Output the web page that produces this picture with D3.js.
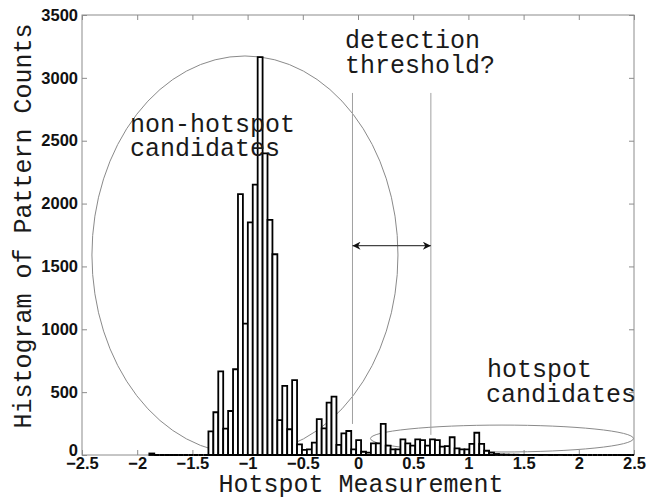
<!DOCTYPE html>
<html>
<head>
<meta charset="utf-8">
<script src="https://cdn.jsdelivr.net/npm/d3@7/dist/d3.min.js"></script>
<style>
  html, body { margin: 0; padding: 0; background: #fff; }
  svg { display: block; }
</style>
</head>
<body>
<svg id="chart" width="657" height="500"></svg>
<script>
// Histogram of hotspot measurements: equal-width bins starting at binStart.
const binStart = -1.89;
const binWidth = 0.0446;
const counts = [
  12,
  0, 0, 0, 0, 0, 0, 0, 0, 0, 0, 0,
  188, 340, 665, 210, 350, 682, 2075, 1045, 1850, 2150,
  3165, 2400, 1870, 1597, 278, 550, 205, 595, 85, 40,
  45, 98, 285, 212, 416, 464, 80, 172, 191, 45,
  119, 26, 19, 93, 93, 247, 74, 45, 45, 125,
  93, 74, 125, 119, 74, 125, 119, 66, 70, 141,
  53, 45, 45, 88, 177, 88, 34, 19,
  8, 4, 3, 2, 2, 1, 1, 1, 1, 0, 1, 0, 0, 1, 0, 0, 0, 1, 0, 0, 0, 0, 0, 0, 0, 0, 0, 0, 0
];

const xTicks = [-2.5, -2, -1.5, -1, -0.5, 0, 0.5, 1, 1.5, 2, 2.5];
const yTicks = [0, 500, 1000, 1500, 2000, 2500, 3000, 3500];

// Candidate threshold window (measurement units) and the arrow between them
const thresholdX = [-0.05, 0.66];
const thresholdTop = 2880;
const thresholdBottom = [247, 160];
const arrowY = 1665;

// Grouping ellipses: [cx, cy, rx, ry] in data units
const nonHotspotEllipse = [-1.024, 1591, 1.386, 1583];
const hotspotEllipse = [1.304, 131, 1.191, 107];

// Annotation labels: [text, x, y] in data units
const notes = [
  ["non-hotspot", -2.065, 2570],
  ["candidates", -2.065, 2378],
  ["detection", -0.118, 3238],
  ["threshold?", -0.118, 3039],
  ["hotspot", 1.168, 620],
  ["candidates", 1.159, 424]
];

const svg = d3.select("#chart");
const margin = { left: 82, right: 23, top: 15, bottom: 45 };
const W = 657, H = 500;

const x = d3.scaleLinear().domain([-2.5, 2.5]).range([margin.left, W - margin.right]);
const y = d3.scaleLinear().domain([0, 3500]).range([H - margin.bottom, margin.top]);

const mono = "'Liberation Mono', 'Courier New', monospace";
const sans = "'Liberation Sans', Arial, Helvetica, sans-serif";
const frameColor = "#8c8c8c";

svg.append("defs").append("clipPath").attr("id", "plotClip")
  .append("rect")
  .attr("x", x(-2.5) - 2).attr("y", y(3500))
  .attr("width", x(2.5) - x(-2.5) + 2).attr("height", y(0) - y(3500) + 2);

// Axes box with inward ticks
const frame = svg.append("g");
frame.append("rect")
  .attr("x", x(-2.5)).attr("y", y(3500))
  .attr("width", x(2.5) - x(-2.5)).attr("height", y(0) - y(3500))
  .attr("fill", "none").attr("stroke", frameColor).attr("stroke-width", 1);

const tickLen = 5;
const bottomAxis = d3.axisBottom(x).tickValues(xTicks).tickSizeInner(-tickLen).tickSizeOuter(0)
  .tickPadding(2).tickFormat(d3.format("~g"));
const topAxis = d3.axisTop(x).tickValues(xTicks).tickSizeInner(-tickLen).tickSizeOuter(0).tickFormat("");
const leftAxis = d3.axisLeft(y).tickValues(yTicks).tickSizeInner(-tickLen).tickSizeOuter(0)
  .tickPadding(4).tickFormat(d3.format("d"));
const rightAxis = d3.axisRight(y).tickValues(yTicks).tickSizeInner(-tickLen).tickSizeOuter(0).tickFormat("");

function styleAxis(g) {
  g.select(".domain").remove();
  g.selectAll(".tick line").attr("stroke", frameColor);
  g.selectAll(".tick text")
    .attr("fill", "#111")
    .style("font-family", sans)
    .style("font-weight", "bold")
    .style("font-size", "16.5px");
}

svg.append("g").attr("transform", `translate(0,${y(0)})`).call(bottomAxis).call(styleAxis);
svg.append("g").attr("transform", `translate(0,${y(3500)})`).call(topAxis).call(styleAxis);
const yAxisG = svg.append("g").attr("transform", `translate(${x(-2.5)},0)`).call(leftAxis).call(styleAxis);
svg.append("g").attr("transform", `translate(${x(2.5)},0)`).call(rightAxis).call(styleAxis);
// lift the zero label so it clears the x tick labels
yAxisG.selectAll(".tick").filter(d => d === 0).select("text").attr("dy", "0.02em");

// Annotation ellipses
const ellipses = svg.append("g").attr("fill", "none").attr("stroke", "#8a8a8a").attr("stroke-width", 1);
[nonHotspotEllipse, hotspotEllipse].forEach(([cx, cy, rx, ry]) => {
  ellipses.append("ellipse")
    .attr("cx", x(cx)).attr("cy", y(cy))
    .attr("rx", x(cx + rx) - x(cx)).attr("ry", y(cy - ry) - y(cy));
});

// Threshold guide lines
svg.append("g").selectAll("line").data(thresholdX).join("line")
  .attr("x1", d => x(d)).attr("x2", d => x(d))
  .attr("y1", y(thresholdTop))
  .attr("y2", (d, i) => y(thresholdBottom[i]))
  .attr("stroke", "#a0a0a0").attr("stroke-width", 1);

// Histogram bars (paths so empty bins still show their outline on the baseline)
const bars = counts.map((c, i) => ({
  x0: binStart + i * binWidth,
  x1: binStart + (i + 1) * binWidth,
  count: c
}));
svg.append("g").attr("clip-path", "url(#plotClip)")
  .selectAll("path").data(bars).join("path")
  .attr("d", d => {
    const p = d3.path();
    p.moveTo(x(d.x0), y(0));
    p.lineTo(x(d.x0), y(d.count));
    p.lineTo(x(d.x1), y(d.count));
    p.lineTo(x(d.x1), y(0));
    p.closePath();
    return p.toString();
  })
  .attr("fill", "#fff")
  .attr("stroke", "#000")
  .attr("stroke-width", 1.8)
  .attr("stroke-linejoin", "miter");

// Double-headed arrow between the thresholds
const defs = svg.select("defs");
["start", "end"].forEach(kind => {
  defs.append("marker")
    .attr("id", "arrow-" + kind)
    .attr("viewBox", "0 0 10 10")
    .attr("refX", kind === "end" ? 10 : 0).attr("refY", 5)
    .attr("markerWidth", 11).attr("markerHeight", 8)
    .attr("markerUnits", "userSpaceOnUse")
    .attr("orient", "auto")
    .append("path")
    .attr("d", kind === "end" ? "M0,0 L10,5 L0,10 L3,5 Z" : "M10,0 L0,5 L10,10 L7,5 Z")
    .attr("fill", "#111");
});
svg.append("line")
  .attr("x1", x(thresholdX[0])).attr("x2", x(thresholdX[1]))
  .attr("y1", y(arrowY)).attr("y2", y(arrowY))
  .attr("stroke", "#444").attr("stroke-width", 1.2)
  .attr("marker-start", "url(#arrow-start)")
  .attr("marker-end", "url(#arrow-end)");

// Annotation text
svg.append("g").selectAll("text").data(notes).join("text")
  .attr("x", d => x(d[1])).attr("y", d => y(d[2]))
  .text(d => d[0])
  .attr("fill", "#1a1a1a")
  .style("font-family", mono)
  .style("font-size", "25px");

// Axis titles
svg.append("text")
  .attr("x", 361).attr("y", 492)
  .attr("text-anchor", "middle")
  .attr("fill", "#1a1a1a")
  .style("font-family", mono).style("font-size", "25px")
  .text("Hotspot Measurement");

svg.append("text")
  .attr("transform", "translate(31,226) rotate(-90)")
  .attr("text-anchor", "middle")
  .attr("fill", "#1a1a1a")
  .style("font-family", mono).style("font-size", "25px")
  .text("Histogram of Pattern Counts");
</script>
</body>
</html>
